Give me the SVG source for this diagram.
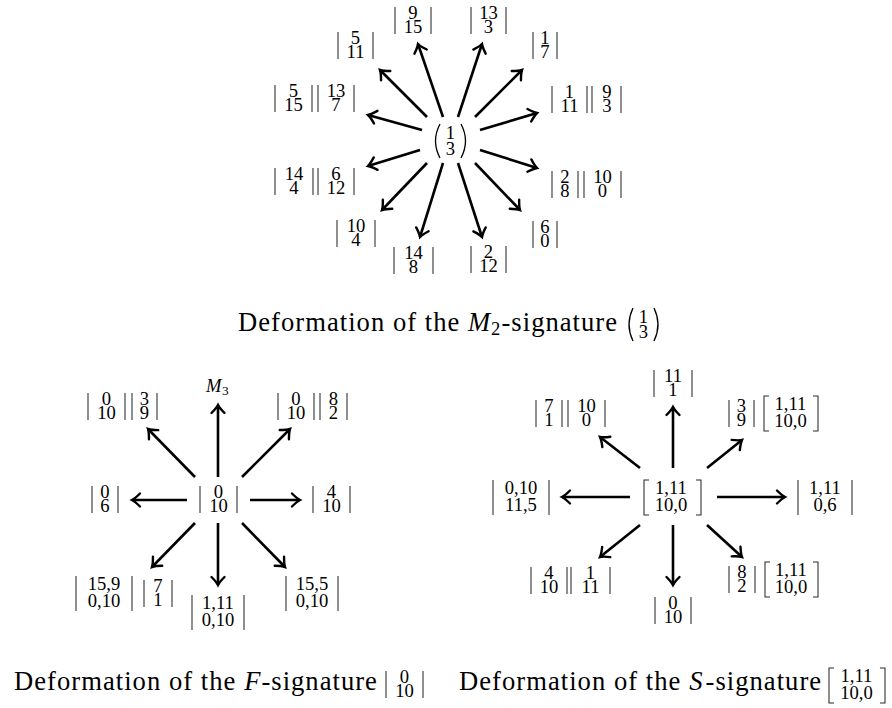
<svg xmlns="http://www.w3.org/2000/svg" width="892" height="708" viewBox="0 0 892 708">
<style>
.t{font-family:"Liberation Serif","Times New Roman",serif;font-size:18.6px;text-anchor:middle;fill:#000}
.ti{font-family:"Liberation Serif","Times New Roman",serif;font-style:italic;fill:#000}
.cap{font-family:"Liberation Serif","Times New Roman",serif;font-size:26.6px;fill:#000}
.d{stroke:#2a2a2a;stroke-width:1.05;fill:none}
.p{stroke:#000;stroke-width:1.3;fill:none}
.a{stroke:#000;stroke-width:2.6;fill:none;marker-end:url(#ah)}
</style>
<defs>
<marker id="ah" markerUnits="userSpaceOnUse" viewBox="-12 -10 14 20" markerWidth="14" markerHeight="20" refX="0" refY="0" orient="auto" overflow="visible">
<path d="M -8,-6.5 Q -3,-1.5 0,0 Q -3,1.5 -8,6.5" fill="none" stroke="#000" stroke-width="2.4" stroke-linecap="round"/>
</marker>
</defs>
<rect width="892" height="708" fill="#fff"/>

<g id="connectors">
<line class="a" x1="443" y1="117" x2="418" y2="44"/>
<line class="a" x1="458" y1="117" x2="482" y2="44"/>
<line class="a" x1="427" y1="117" x2="380" y2="70"/>
<line class="a" x1="475" y1="117" x2="522" y2="70"/>
<line class="a" x1="422" y1="130" x2="368" y2="115"/>
<line class="a" x1="480" y1="130" x2="537" y2="113"/>
<line class="a" x1="420" y1="150" x2="368" y2="166"/>
<line class="a" x1="480" y1="150" x2="537" y2="168"/>
<line class="a" x1="427" y1="163" x2="382" y2="210"/>
<line class="a" x1="475" y1="163" x2="520" y2="210"/>
<line class="a" x1="443" y1="163" x2="420" y2="237"/>
<line class="a" x1="458" y1="163" x2="482" y2="237"/>
<line class="a" x1="218" y1="477" x2="218" y2="405"/>
<line class="a" x1="195" y1="477" x2="148" y2="429"/>
<line class="a" x1="242" y1="477" x2="290" y2="429"/>
<line class="a" x1="187" y1="500" x2="132" y2="500"/>
<line class="a" x1="250" y1="500" x2="300" y2="500"/>
<line class="a" x1="195" y1="523" x2="152" y2="567"/>
<line class="a" x1="218" y1="523" x2="218" y2="585"/>
<line class="a" x1="242" y1="523" x2="285" y2="567"/>
<line class="a" x1="673" y1="468" x2="673" y2="407"/>
<line class="a" x1="640" y1="468" x2="600" y2="437"/>
<line class="a" x1="707" y1="468" x2="742" y2="440"/>
<line class="a" x1="630" y1="497" x2="562" y2="497"/>
<line class="a" x1="717" y1="497" x2="785" y2="497"/>
<line class="a" x1="640" y1="525" x2="600" y2="557"/>
<line class="a" x1="673" y1="525" x2="673" y2="585"/>
<line class="a" x1="707" y1="525" x2="742" y2="557"/>
</g>

<g id="m2-center">
<path class="p" d="M 440 124 Q 431 141 440 158"/>
<path class="p" d="M 461 124 Q 470 141 461 158"/>
<text class="t"><tspan x="450.5" y="139">1</tspan><tspan x="450.5" y="154.5">3</tspan></text>
</g>
<g id="t-9-15">
<path class="d" d="M395 7V34M431 7V34"/>
<text class="t"><tspan x="413" y="19">9</tspan><tspan x="413" y="33">15</tspan></text>
</g>
<g id="t-13-3">
<path class="d" d="M471 7V34M506 7V34"/>
<text class="t"><tspan x="488.5" y="19">13</tspan><tspan x="488.5" y="33">3</tspan></text>
</g>
<g id="t-5-11">
<path class="d" d="M338 32V59M373 32V59"/>
<text class="t"><tspan x="355.5" y="44">5</tspan><tspan x="355.5" y="58">11</tspan></text>
</g>
<g id="t-1-7">
<path class="d" d="M533 32V59M557 32V59"/>
<text class="t"><tspan x="545" y="44">1</tspan><tspan x="545" y="58">7</tspan></text>
</g>
<g id="t-5-15-13-7">
<path class="d" d="M275 85V112M312 85V112M318 85V112M354 85V112"/>
<text class="t"><tspan x="293.5" y="97">5</tspan><tspan x="293.5" y="111">15</tspan></text>
<text class="t"><tspan x="336" y="97">13</tspan><tspan x="336" y="111">7</tspan></text>
</g>
<g id="t-1-11-9-3">
<path class="d" d="M552 86V113M587 86V113M592 86V113M621 86V113"/>
<text class="t"><tspan x="569.5" y="98">1</tspan><tspan x="569.5" y="112">11</tspan></text>
<text class="t"><tspan x="607" y="98">9</tspan><tspan x="607" y="112">3</tspan></text>
</g>
<g id="t-14-4-6-12">
<path class="d" d="M275 168V195M313 168V195M318 168V195M354 168V195"/>
<text class="t"><tspan x="294" y="180">14</tspan><tspan x="294" y="194">4</tspan></text>
<text class="t"><tspan x="336" y="180">6</tspan><tspan x="336" y="194">12</tspan></text>
</g>
<g id="t-2-8-10-0">
<path class="d" d="M552 171V198M578 171V198M584 171V198M621 171V198"/>
<text class="t"><tspan x="565" y="183">2</tspan><tspan x="565" y="197">8</tspan></text>
<text class="t"><tspan x="602.5" y="183">10</tspan><tspan x="602.5" y="197">0</tspan></text>
</g>
<g id="t-10-4">
<path class="d" d="M337 220V247M375 220V247"/>
<text class="t"><tspan x="356" y="232">10</tspan><tspan x="356" y="246">4</tspan></text>
</g>
<g id="t-6-0">
<path class="d" d="M533 221V248M557 221V248"/>
<text class="t"><tspan x="545" y="233">6</tspan><tspan x="545" y="247">0</tspan></text>
</g>
<g id="t-14-8">
<path class="d" d="M394 247V274M433 247V274"/>
<text class="t"><tspan x="413.5" y="259">14</tspan><tspan x="413.5" y="273">8</tspan></text>
</g>
<g id="t-2-12">
<path class="d" d="M471 246V273M506 246V273"/>
<text class="t"><tspan x="488.5" y="258">2</tspan><tspan x="488.5" y="272">12</tspan></text>
</g>

<g id="caption-m2">
<text class="cap" x="238" y="331" textLength="221.4" lengthAdjust="spacing">Deformation of the</text>
<text class="ti" x="468" y="331" font-size="26.6">M</text>
<text class="cap" x="491" y="335" style="font-size:18.6px">2</text>
<text class="cap" x="501.5" y="331" textLength="115.5" lengthAdjust="spacing">-signature</text>
<path class="p" d="M 633 308 Q 625 324.5 633 341"/>
<path class="p" d="M 654 308 Q 662 324.5 654 341"/>
<text class="t"><tspan x="643.5" y="322.5">1</tspan><tspan x="643.5" y="338">3</tspan></text>
</g>

<g id="f-center">
<path class="d" d="M200 486V513M237 486V513"/>
<text class="t"><tspan x="218.5" y="498">0</tspan><tspan x="218.5" y="512">10</tspan></text>
</g>
<g id="f-m3">
<text class="ti" x="206" y="392" font-size="18.6">M<tspan class="cap" x="222" y="395" style="font-size:13.3px;font-style:normal">3</tspan></text>
</g>
<g id="f-0-10-3-9">
<path class="d" d="M88 393V420M125 393V420M132 393V420M157 393V420"/>
<text class="t"><tspan x="106.5" y="405">0</tspan><tspan x="106.5" y="419">10</tspan></text>
<text class="t"><tspan x="144.5" y="405">3</tspan><tspan x="144.5" y="419">9</tspan></text>
</g>
<g id="f-0-10-8-2">
<path class="d" d="M278 393V420M314 393V420M320 393V420M347 393V420"/>
<text class="t"><tspan x="296" y="405">0</tspan><tspan x="296" y="419">10</tspan></text>
<text class="t"><tspan x="333.5" y="405">8</tspan><tspan x="333.5" y="419">2</tspan></text>
</g>
<g id="f-0-6">
<path class="d" d="M92 486V513M118 486V513"/>
<text class="t"><tspan x="105" y="498">0</tspan><tspan x="105" y="512">6</tspan></text>
</g>
<g id="f-4-10">
<path class="d" d="M313 486V513M350 486V513"/>
<text class="t"><tspan x="331.5" y="498">4</tspan><tspan x="331.5" y="512">10</tspan></text>
</g>
<g id="f-15-9-0-10-7-1">
<path class="d" d="M76 576V611M132 576V611M144 580V607M172 580V607"/>
<text class="t"><tspan x="104" y="589.5">15,9</tspan><tspan x="104" y="606.5">0,10</tspan></text>
<text class="t"><tspan x="158" y="592">7</tspan><tspan x="158" y="606">1</tspan></text>
</g>
<g id="f-1-11-0-10">
<path class="d" d="M192 595V630M244 595V630"/>
<text class="t"><tspan x="218" y="608.5">1,11</tspan><tspan x="218" y="625.5">0,10</tspan></text>
</g>
<g id="f-15-5-0-10">
<path class="d" d="M286 576V611M338 576V611"/>
<text class="t"><tspan x="312" y="589.5">15,5</tspan><tspan x="312" y="606.5">0,10</tspan></text>
</g>

<g id="caption-f">
<text class="cap" x="14" y="690" textLength="221.4" lengthAdjust="spacing">Deformation of the</text>
<text class="ti" x="244.3" y="690" font-size="26.6">F</text>
<text class="cap" x="261.4" y="690" textLength="115.5" lengthAdjust="spacing">-signature</text>
<path class="d" d="M386 671V698M423 671V698"/>
<text class="t"><tspan x="404.5" y="683">0</tspan><tspan x="404.5" y="697">10</tspan></text>
</g>

<g id="s-center">
<path class="d" d="M649 480H644V515H649M696 480H701V515H696"/>
<text class="t"><tspan x="671" y="493.5">1,11</tspan><tspan x="671" y="510.5">10,0</tspan></text>
</g>
<g id="s-11-1">
<path class="d" d="M654 370V397M692 370V397"/>
<text class="t"><tspan x="673" y="382">11</tspan><tspan x="673" y="396">1</tspan></text>
</g>
<g id="s-7-1-10-0">
<path class="d" d="M536 400V427M562 400V427M568 400V427M605 400V427"/>
<text class="t"><tspan x="549" y="412">7</tspan><tspan x="549" y="426">1</tspan></text>
<text class="t"><tspan x="586.5" y="412">10</tspan><tspan x="586.5" y="426">0</tspan></text>
</g>
<g id="s-3-9-br">
<path class="d" d="M729 400V427M754 400V427"/>
<text class="t"><tspan x="741.5" y="412">3</tspan><tspan x="741.5" y="426">9</tspan></text>
<path class="d" d="M769 396H764V431H769M813 396H818V431H813"/>
<text class="t"><tspan x="790.5" y="409.5">1,11</tspan><tspan x="790.5" y="426.5">10,0</tspan></text>
</g>
<g id="s-0-10-11-5">
<path class="d" d="M493 480V515M549 480V515"/>
<text class="t"><tspan x="521" y="493.5">0,10</tspan><tspan x="521" y="510.5">11,5</tspan></text>
</g>
<g id="s-1-11-0-6">
<path class="d" d="M798 480V515M852 480V515"/>
<text class="t"><tspan x="825" y="493.5">1,11</tspan><tspan x="825" y="510.5">0,6</tspan></text>
</g>
<g id="s-4-10-1-11">
<path class="d" d="M531 567V594M567 567V594M571 567V594M610 567V594"/>
<text class="t"><tspan x="549" y="579">4</tspan><tspan x="549" y="593">10</tspan></text>
<text class="t"><tspan x="590.5" y="579">1</tspan><tspan x="590.5" y="593">11</tspan></text>
</g>
<g id="s-0-10">
<path class="d" d="M655 597V624M691 597V624"/>
<text class="t"><tspan x="673" y="609">0</tspan><tspan x="673" y="623">10</tspan></text>
</g>
<g id="s-8-2-br">
<path class="d" d="M729 566V593M755 566V593"/>
<text class="t"><tspan x="742" y="578">8</tspan><tspan x="742" y="592">2</tspan></text>
<path class="d" d="M770 562H765V597H770M813 562H818V597H813"/>
<text class="t"><tspan x="791" y="575.5">1,11</tspan><tspan x="791" y="592.5">10,0</tspan></text>
</g>

<g id="caption-s">
<text class="cap" x="459" y="690" textLength="221.4" lengthAdjust="spacing">Deformation of the</text>
<text class="ti" x="689.3" y="690" font-size="26.6">S</text>
<text class="cap" x="705.6" y="690" textLength="115.5" lengthAdjust="spacing">-signature</text>
<path class="d" d="M834 668H829V703H834M880 668H885V703H880"/>
<text class="t"><tspan x="856.5" y="681.5">1,11</tspan><tspan x="856.5" y="698.5">10,0</tspan></text>
</g>
</svg>
